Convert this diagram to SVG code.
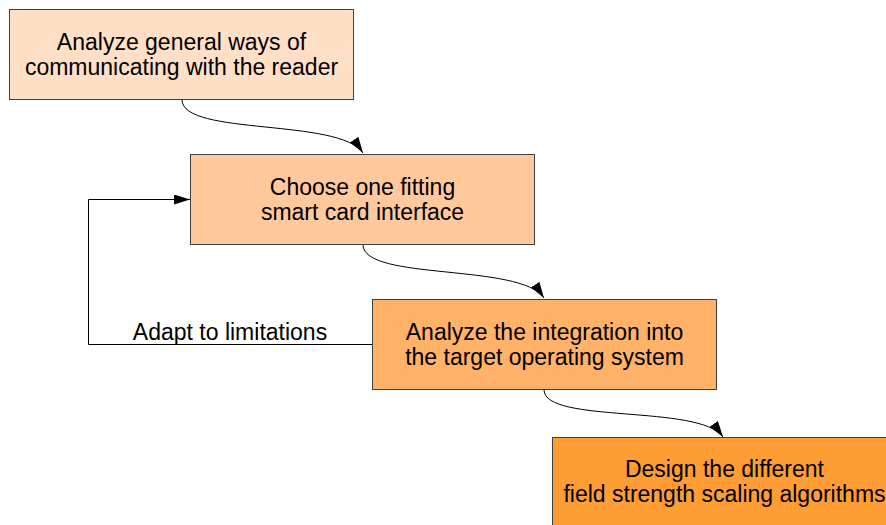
<svg xmlns="http://www.w3.org/2000/svg" width="886" height="525" viewBox="0 0 886 525">
  <style>
    .box { stroke: #3f3f3f; stroke-width: 1; }
    .label { font-family: "Liberation Sans", Arial, sans-serif; font-size: 23px; fill: #000; text-anchor: middle; }
    .edge { fill: none; stroke: #000; stroke-width: 1; }
  </style>
  <defs>
    <marker id="arrow" viewBox="0 0 16 10" refX="16" refY="5" markerWidth="16" markerHeight="10" markerUnits="userSpaceOnUse" orient="auto">
      <path d="M0,0 L16,5 L0,10 Z" fill="#000"/>
    </marker>
  </defs>
  <rect width="886" height="525" fill="#fff"/>

  <g id="node-analyze-ways">
    <rect class="box" x="9.5" y="9.5" width="344" height="90" fill="#FFDFC5"/>
    <text class="label" x="181.5" y="49.5">Analyze general ways of</text>
    <text class="label" x="181.5" y="74.5">communicating with the reader</text>
  </g>

  <g id="node-choose-interface">
    <rect class="box" x="190.5" y="154.5" width="344" height="90" fill="#FFC89D"/>
    <text class="label" x="362.5" y="194.5">Choose one fitting</text>
    <text class="label" x="362.5" y="219.5">smart card interface</text>
  </g>

  <g id="node-analyze-integration">
    <rect class="box" x="372.5" y="299.5" width="344" height="90" fill="#FFB268"/>
    <text class="label" x="544.5" y="339.5">Analyze the integration into</text>
    <text class="label" x="544.5" y="364.5">the target operating system</text>
  </g>

  <g id="node-design-algorithms">
    <rect class="box" x="552.5" y="437.5" width="344" height="90" fill="#FF9D35"/>
    <text class="label" x="724.5" y="477">Design the different</text>
    <text class="label" x="724.5" y="502">field strength scaling algorithms</text>
  </g>

  <g id="connectors">
    <path class="edge" d="M182,100 C183,136 340,118 363,153" marker-end="url(#arrow)"/>
    <path class="edge" d="M363,245 C364,281 521,263 544,298" marker-end="url(#arrow)"/>
    <path class="edge" d="M544,390 C545,424 700,404 723,437" marker-end="url(#arrow)"/>
    <path class="edge" d="M372,344.5 H88.5 V199.5 H190" marker-end="url(#arrow)"/>
    <text class="label" x="230" y="340">Adapt to limitations</text>
  </g>
</svg>
